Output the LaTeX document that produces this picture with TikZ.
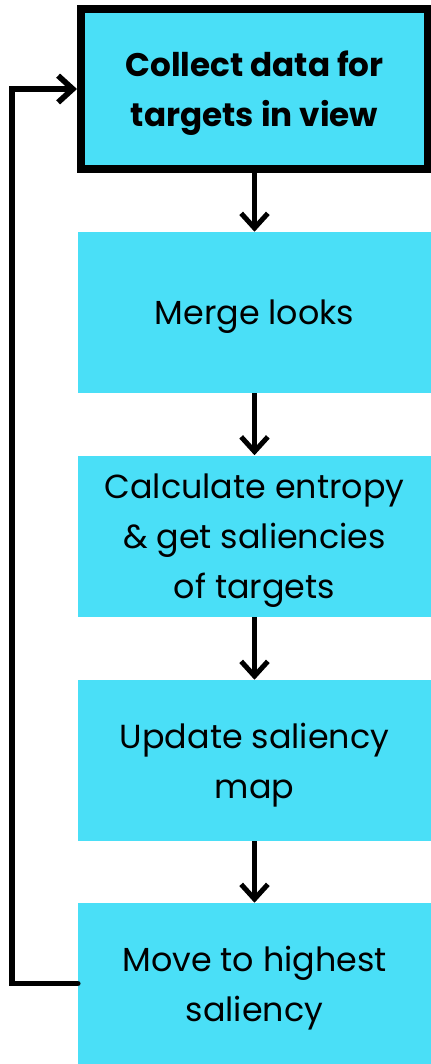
\documentclass[tikz,border=0pt]{standalone}
\usepackage{fontspec}
\setmainfont{Poppins}
\usetikzlibrary{arrows.meta}
\definecolor{boxcyan}{RGB}{74,223,247}
\tikzset{
  stepbox/.style={fill=boxcyan, align=center, minimum width=264.75pt, minimum height=120.75pt, inner sep=0pt,
    text depth=-3pt, font={\fontsize{25}{37.5}\selectfont}},
  firstbox/.style={stepbox, draw=black, line width=6pt, minimum width=260.25pt, minimum height=120pt,
    font={\fontsize{24.5}{37.5}\selectfont\bfseries}},
  flow/.style={line width=3.75pt, -{Straight Barb[length=11pt,width=20pt]}},
}
\begin{document}
\begin{tikzpicture}[x=0.75pt,y=-0.75pt]
          \useasboundingbox (0,0) rectangle (431,1064);

          \node [firstbox] (collect) at (254.5,89) {Collect data for\\targets in view}; % Draws a box
          \node [stepbox] (merge) at (254.5,312.5) {Merge looks}; % Draws a box
          \node [stepbox] (entropy) at (254.5,536) {Calculate entropy\\\& get saliencies\\of targets}; % Draws a box
          \node [stepbox] (update) at (254.5,760.5) {Update saliency\\map}; % Draws a box
          \node [stepbox] (move) at (254.5,983.5) {Move to highest\\saliency}; % Draws a box

          \draw [flow] (collect) to (merge);
          \draw [flow] (merge) to (entropy);
          \draw [flow] (entropy) to (update);
          \draw [flow] (update) to (move);

          \draw [flow, line width=4.25pt, line cap=round] (move.west) -- ++(-66,0) |- (collect.west);
        \end{tikzpicture}
\end{document}
